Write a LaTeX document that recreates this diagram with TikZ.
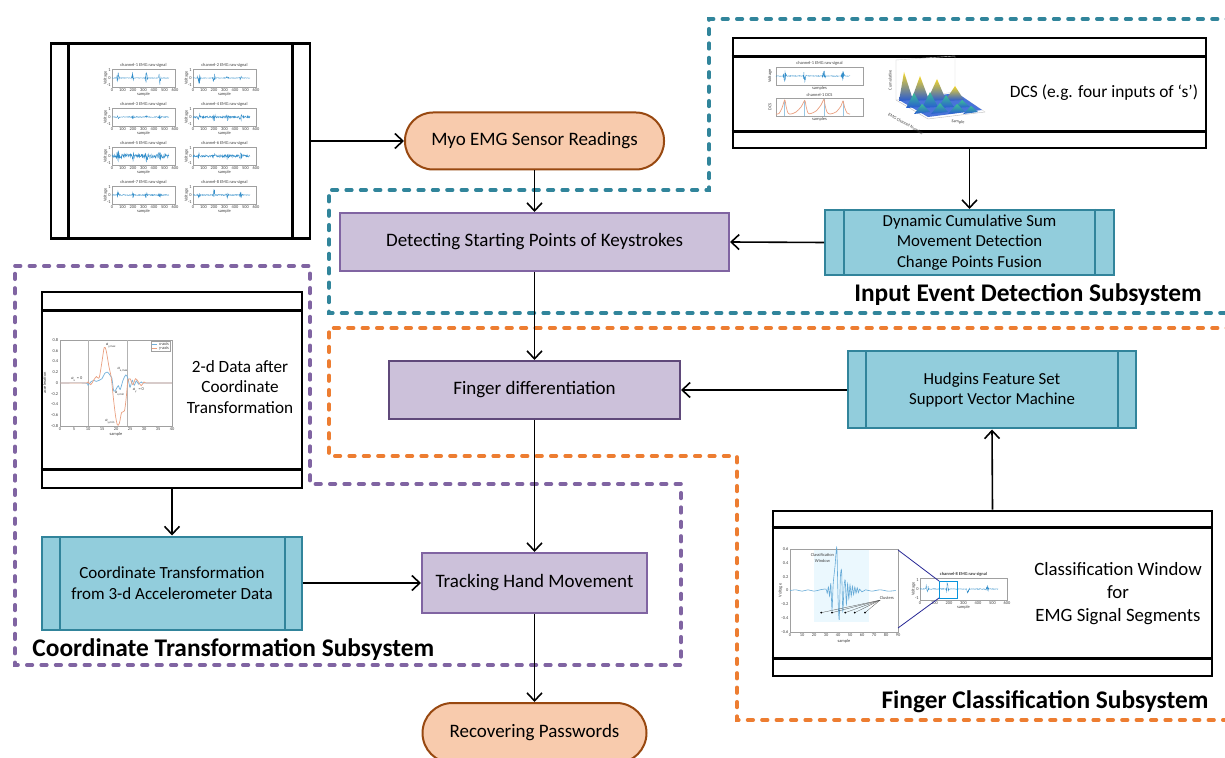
\documentclass[tikz,border=0pt]{standalone}
\usepackage{fontspec}
\setmainfont{Carlito}
\usetikzlibrary{arrows.meta}

\definecolor{peachfill}{RGB}{248,203,173}
\definecolor{peachline}{RGB}{152,72,16}
\definecolor{lilacfill}{RGB}{204,193,218}
\definecolor{lilacline}{RGB}{128,100,162}
\definecolor{plumline}{RGB}{95,73,122}
\definecolor{cyanfill}{RGB}{146,205,220}
\definecolor{cyanline}{RGB}{49,132,155}
\definecolor{tealdash}{RGB}{49,133,155}
\definecolor{orangedash}{RGB}{237,125,49}
\definecolor{purpledash}{RGB}{128,100,162}
\definecolor{matblue}{RGB}{0,114,189}
\definecolor{matorange}{RGB}{217,83,25}
\definecolor{axgray}{RGB}{160,160,160}
\definecolor{zoomnavy}{RGB}{40,40,150}
\definecolor{surfblue}{RGB}{40,90,210}
\definecolor{surfyellow}{RGB}{245,215,40}
\definecolor{surfgreen}{RGB}{60,190,150}

\tikzset{
  basetext/.style={font=\fontsize{9.5}{11.5}\selectfont, align=center, inner sep=0pt},
  terminal/.style={basetext, draw=peachline, fill=peachfill, line width=1pt,
    rounded corners=14pt, minimum width=129.5pt, minimum height=28.5pt},
  process/.style={basetext, draw=lilacline, fill=lilacfill, line width=1pt},
  subproc/.style={font=\fontsize{8.4}{10.2}\selectfont, align=center, inner sep=0pt,
    draw=cyanline, fill=cyanfill, line width=1pt},
  docbox/.style={draw=black, line width=1.3pt, fill=white},
  docline/.style={draw=black, line width=1.3pt},
  barline/.style={draw=cyanline, line width=1pt},
  flow/.style={draw=black, line width=0.8pt,
    -{Straight Barb[length=4pt,width=7.5pt,line width=0.8pt]}},
  zone/.style={line width=1.8pt, line cap=round, dash pattern=on 2.8pt off 4.4pt},
  subsys/.style={font=\fontsize{12.7}{14}\selectfont\bfseries, inner sep=0pt},
  minitext/.style={font=\fontsize{2.2}{2.6}\selectfont, inner sep=0.3pt, text=black!75},
  axisbox/.style={draw=axgray, line width=0.15pt},
  peak/.style={top color=surfyellow, bottom color=surfblue},
  lowpeak/.style={top color=surfgreen, bottom color=surfblue},
}

% one small EMG panel: #1,#2 top-left of axes, #3 title, #4-#7 burst heights, #8 noise
\newcommand\emgpanel[8]{%
\begin{scope}[shift={(#1,#2)}]
  \draw[axisbox] (0,0) rectangle (63,18);
  \draw[matblue!80, line width=0.15pt] plot[domain=0:57, samples=220, variable=\t]
    ({\t}, {9 + (#8 + #4*max(0,1-abs(\t-6)/1.6) + #5*max(0,1-abs(\t-21)/1.6)
      + #6*max(0,1-abs(\t-34.3)/1.6) + #7*max(0,1-abs(\t-47.7)/1.6))*rand});
  \node[minitext, anchor=south] at (31.5,-0.3) {#3};
  \foreach \v/\lab in {0/0,10.5/100,21/200,31.5/300,42/400,52.5/500,63/600}
    \node[minitext, anchor=north] at (\v,18.4) {\lab};
  \node[minitext, anchor=north] at (31.5,22.3) {sample};
  \node[minitext, anchor=east] at (-0.4,1.5) {1};
  \node[minitext, anchor=east] at (-0.4,9) {0};
  \node[minitext, anchor=east] at (-0.4,16.5) {-1};
  \node[minitext, rotate=90] at (-6.5,9) {Voltage};
\end{scope}}

\begin{document}
\begin{tikzpicture}[x=0.5pt,y=-0.5pt]
\pgfmathsetseed{42}
\path[fill=white, use as bounding box] (0,0) rectangle (1225,758);

% ---------- subsystem outlines ----------
\draw[zone, tealdash] (1232,19) -- (709,19) -- (709,190) -- (329,190) -- (329,313) -- (1232,313);
\draw[zone, orangedash] (1232,328) -- (329,328) -- (329,456) -- (737,456) -- (737,720) -- (1232,720);
\draw[zone, purpledash] (15,266) -- (310,266) -- (310,484) -- (681,484) -- (681,665) -- (15,665) -- cycle;

% ---------- main flow ----------
\node[terminal] (myo) at (534.5,141) {Myo EMG Sensor Readings};
\node[process, minimum width=194.5pt, minimum height=29pt] (detect) at (534.5,242)
  {Detecting Starting Points of Keystrokes};
\node[process, draw=plumline, minimum width=145.5pt, minimum height=29pt] (fingerdiff) at (534.5,390)
  {Finger differentiation};
\node[process, minimum width=112.5pt, minimum height=30pt] (tracking) at (534.5,583)
  {Tracking Hand Movement};
\node[terminal, minimum width=112pt, minimum height=30pt, rounded corners=15pt] (recover) at (534.5,733)
  {Recovering Passwords};

% ---------- predefined processes ----------
\node[subproc, minimum width=144.5pt, minimum height=32.5pt] (dcsum) at (969.5,242.5)
  {Dynamic Cumulative Sum\\Movement Detection\\Change Points Fusion};
\draw[barline] ([xshift=10pt]dcsum.north west) -- ([xshift=10pt]dcsum.south west);
\draw[barline] ([xshift=-10pt]dcsum.north east) -- ([xshift=-10pt]dcsum.south east);

\node[subproc, minimum width=144pt, minimum height=38.5pt] (hudgins) at (992,390)
  {Hudgins Feature Set\\Support Vector Machine};
\draw[barline] ([xshift=9.5pt]hudgins.north west) -- ([xshift=9.5pt]hudgins.south west);
\draw[barline] ([xshift=-9.5pt]hudgins.north east) -- ([xshift=-9.5pt]hudgins.south east);

\node[subproc, font=\fontsize{8.5}{10.5}\selectfont, minimum width=130pt, minimum height=46.5pt] (coordtr) at (172,583)
  {Coordinate Transformation\\from 3-d Accelerometer Data};
\draw[barline] ([xshift=9.5pt]coordtr.north west) -- ([xshift=9.5pt]coordtr.south west);
\draw[barline] ([xshift=-9pt]coordtr.north east) -- ([xshift=-9pt]coordtr.south east);

% ---------- document boxes ----------
\node[docbox, minimum width=129.5pt, minimum height=97.5pt] (emgdoc) at (180.5,141) {};
\draw[docline] ([xshift=9.5pt]emgdoc.north west) -- ([xshift=9.5pt]emgdoc.south west);
\draw[docline] ([xshift=-9.5pt]emgdoc.north east) -- ([xshift=-9.5pt]emgdoc.south east);

\node[docbox, minimum width=236.5pt, minimum height=55pt] (dcsdoc) at (969.5,93) {};
\draw[docline] ([yshift=-10pt]dcsdoc.north west) -- ([yshift=-10pt]dcsdoc.north east);
\draw[docline] ([yshift=9pt]dcsdoc.south west) -- ([yshift=9pt]dcsdoc.south east);
\node[basetext, font=\fontsize{8.7}{10.5}\selectfont] (dcstxt) at (1104,93) {DCS (e.g. four inputs of ‘s’)};

\node[docbox, minimum width=130pt, minimum height=98pt] (datadoc) at (172,390) {};
\draw[docline] ([yshift=-10pt]datadoc.north west) -- ([yshift=-10pt]datadoc.north east);
\draw[docline] ([yshift=10pt]datadoc.south west) -- ([yshift=10pt]datadoc.south east);
\node[basetext, font=\fontsize{8.6}{10.3}\selectfont] (datatxt) at (240,387)
  {2-d Data after\\Coordinate\\Transformation};

\node[docbox, minimum width=219.5pt, minimum height=82.5pt] (clsdoc) at (992.5,593.5) {};
\draw[docline] ([yshift=-9pt]clsdoc.north west) -- ([yshift=-9pt]clsdoc.north east);
\draw[docline] ([yshift=9.5pt]clsdoc.south west) -- ([yshift=9.5pt]clsdoc.south east);
\node[basetext, font=\fontsize{9.4}{11.5}\selectfont] (clstxt) at (1118,594)
  {Classification Window\\for\\EMG Signal Segments};

% ---------- eight raw EMG channels ----------
\emgpanel{112}{69}{channel-1 EMG raw signal}{8}{8}{8}{8}{0.3}
\emgpanel{193}{69}{channel-2 EMG raw signal}{8}{7}{2}{3}{0.3}
\emgpanel{112}{108}{channel-3 EMG raw signal}{2}{2}{1.5}{2}{0.4}
\emgpanel{193}{108}{channel-4 EMG raw signal}{3}{4}{4}{4}{1}
\emgpanel{112}{147}{channel-5 EMG raw signal}{5}{4}{4}{4}{2.2}
\emgpanel{193}{147}{channel-6 EMG raw signal}{3}{4}{3}{3}{1.3}
\emgpanel{112}{186}{channel-7 EMG raw signal}{3}{3}{3}{3}{0.5}
\emgpanel{193}{186}{channel-8 EMG raw signal}{4}{8}{4}{3}{0.5}

% ---------- DCS illustration: raw signal and cumulative sum ----------
\begin{scope}[shift={(776,67)}]
  \draw[axisbox] (0,0) rectangle (87,18);
  \draw[matblue!80, line width=0.15pt] plot[domain=0:74, samples=240, variable=\t]
    ({\t}, {9 + (0.4 + 8*max(0,1-abs(\t-8.7)/1.8) + 8*max(0,1-abs(\t-28.7)/1.8)
      + 8*max(0,1-abs(\t-47.9)/1.8) + 8*max(0,1-abs(\t-67)/1.8))*rand});
  \node[minitext, anchor=south] at (43.5,-0.3) {channel-1 EMG raw signal};
  \node[minitext, rotate=90] at (-6,9) {Voltage};
  \node[minitext, anchor=north] at (43.5,18.5) {samples};
\end{scope}
\begin{scope}[shift={(776,98)}]
  \draw[axisbox] (0,0) rectangle (87,18);
  \foreach \p/\h in {8.7/2,28.7/2.5,47.9/1.5,67/3}
    \draw[matblue!40, line width=0.3pt] (\p,18) -- (\p,\h);
  \draw[matorange!55, line width=0.35pt] plot[smooth, tension=0.5] coordinates {
    (0,16) (3,15.5) (6,10) (8.7,2) (10,8) (12,15) (15,16) (20,14) (25,9) (28.7,2.5)
    (30,8) (32,15) (35,15.5) (40,13) (45,7) (47.9,1.5) (49,7) (51,14) (54,16)
    (60,14) (65,8) (67,3) (68.5,9) (71,15) (74,16)};
  \node[minitext, anchor=south] at (43.5,-0.3) {channel-1 DCS};
  \node[minitext, rotate=90] at (-6,9) {DCS};
  \node[minitext, anchor=north] at (43.5,18.5) {samples};
\end{scope}
% 3-d surface of all channels
\draw[axgray!70, line width=0.2pt] (896,60) -- (896,100) -- (928,119) -- (985,112);
\draw[axgray!45, line width=0.2pt] (896,100) -- (955,92) -- (985,112) (955,92) -- (955,56)
  (896,60) -- (955,56);
\fill[surfblue!85] (899,100) -- (957,93) -- (982,110) -- (928,117) -- cycle;
\foreach \bx/\tx/\ty/\ex in {899/904/72/913, 911/920/76/929, 927/937/79/946, 945/955/86/964}
  \shade[peak] (\bx,101) -- (\tx,\ty) -- (\ex,100) -- cycle;
\foreach \bx/\tx/\ty/\ex in {906/914/93/922, 922/930/92/938, 938/946/95/954, 954/962/100/970}
  \shade[lowpeak] (\bx,108) -- (\tx,\ty) -- (\ex,107) -- cycle;
\foreach \bx/\tx/\ty/\ex in {914/922/104/930, 931/940/103/948, 948/957/104/965, 963/971/106/978}
  \shade[lowpeak] (\bx,114) -- (\tx,\ty) -- (\ex,112) -- cycle;
\node[minitext, rotate=90] at (890,80) {Cumulative};
\node[minitext, rotate=-30] at (906,124) {EMG Channel Number};
\node[minitext, rotate=-8] at (958,122) {Sample};

% ---------- 2-d acceleration plot ----------
\begin{scope}[shift={(60,383)}, x=1.4pt, y=26.875pt]
  \draw[axisbox] (0,-0.8) rectangle (40,0.8);
  \draw[axgray!80, line width=0.25pt] (10,-0.8) -- (10,0.8) (24,-0.8) -- (24,0.8);
  \draw[matblue!55, line width=0.35pt] plot[smooth, tension=0.5] coordinates {
    (0,0) (9,0) (10,-0.04) (11,0.02) (12,0.05) (13,0.03) (14,0.05) (15,0.08) (16,0.18)
    (17,0.2) (17.8,0.15) (18.5,0.1) (19.2,-0.15) (20,-0.12) (20.8,-0.05) (21.5,-0.12)
    (22.5,0.05) (23.5,0.15) (24.3,0.08) (25,-0.08) (25.8,0.05) (26.5,-0.04) (27.3,0.04)
    (28,-0.02) (29,0.02) (30,0) (40,0)};
  \draw[matorange!55, line width=0.35pt] plot[smooth, tension=0.5] coordinates {
    (0,0) (9,0) (10,0.02) (11,-0.03) (12,0.05) (13,0.12) (14,0.1) (15,0.4) (15.8,0.66)
    (16.5,0.6) (17.5,0.3) (18.3,0.1) (19,-0.25) (19.8,-0.6) (20.5,-0.78) (21.2,-0.75)
    (22,-0.55) (23,-0.52) (23.6,-0.3) (24.2,0.02) (25,0.08) (26,-0.03) (27,0.08) (28,0.02)
    (29,-0.05) (30,0.02) (31,0) (40,0)};
  \draw[axgray, line width=0.15pt, fill=white] (32.5,0.77) rectangle (39.5,0.6);
  \draw[matblue!55, line width=0.3pt] (33,0.72) -- (34.8,0.72);
  \draw[matorange!55, line width=0.3pt] (33,0.65) -- (34.8,0.65);
  \node[minitext, anchor=west] at (35,0.72) {x-axis};
  \node[minitext, anchor=west] at (35,0.65) {y-axis};
  \foreach \v in {0.8,0.6,0.4,0.2,0,-0.2,-0.4,-0.6,-0.8}
    \node[minitext, anchor=east] at (-0.3,\v) {\v};
  \foreach \v in {0,5,10,15,20,25,30,35,40}
    \node[minitext, anchor=north] at (\v,-0.81) {\v};
  \node[minitext, anchor=north] at (20,-0.9) {sample};
  \node[minitext, rotate=90] at (-5.5,0) {acceleration};
  \node[minitext] at (18.3,0.7) {\textit{a}\textsubscript{y,max}};
  \node[minitext] at (22.5,0.24) {\textit{a}\textsubscript{x,max}};
  \node[minitext] at (6,0.07) {\textit{a}\textsubscript{x} = 0};
  \node[minitext] at (21.5,-0.2) {\textit{a}\textsubscript{x,min}};
  \node[minitext] at (28,-0.13) {\textit{a}\textsubscript{y} = 0};
  \node[minitext] at (18,-0.72) {\textit{a}\textsubscript{y,min}};
\end{scope}

% ---------- classification window illustration ----------
\begin{scope}[shift={(790,590.5)}, x=0.6pt, y=34.6pt]
  \fill[cyan!8] (20,0.6) rectangle (66,-0.45);
  \draw[axisbox] (0,-0.6) rectangle (90,0.6);
  \draw[matblue!60, line width=0.3pt] plot[smooth, tension=0.4] coordinates {
    (0,0) (5,0.01) (10,-0.01) (15,0.01) (20,-0.01) (25,0.01) (30,0.02) (31,-0.04)
    (32,0.05) (33,-0.08) (34,0.1) (35,-0.28) (36,0.1) (37.5,0.35) (39,0.62) (40,-0.1)
    (41,-0.42) (42,0.2) (43,0.28) (44,-0.3) (45,0.05) (46,0.15) (47,-0.2) (48,0.1)
    (49,-0.12) (50,0.08) (51,-0.08) (52,0.06) (53,-0.06) (54,0.05) (55,-0.04) (56,0.04)
    (57,-0.03) (58,0.02) (60,-0.02) (63,0.01) (68,-0.01) (75,0.01) (82,-0.01) (88,0)};
  \foreach \d in {26,35,46,54,62.5} {
    \draw[black!70, line width=0.15pt] (\d,-0.32) -- (75,-0.14);
    \fill[black] (\d,-0.32) circle (0.5pt);
  }
  \node[minitext, anchor=south west] at (74,-0.15) {Clusters};
  \node[minitext, align=center] at (27,0.47) {Classification\\Window};
  \foreach \v in {0.6,0.4,0.2,0,-0.2,-0.4,-0.6}
    \node[minitext, anchor=east] at (-0.5,\v) {\v};
  \foreach \v in {0,10,20,30,40,50,60,70,80,90}
    \node[minitext, anchor=north] at (\v,-0.61) {\v};
  \node[minitext, anchor=north] at (45,-0.7) {sample};
  \node[minitext, rotate=90] at (-8,0) {Voltage};
\end{scope}
\begin{scope}[shift={(920,578)}]
  \draw[axisbox] (0,0) rectangle (87,22);
  \draw[matblue!80, line width=0.15pt] plot[domain=0:78, samples=240, variable=\t]
    ({\t}, {11 + (0.4 + 8*max(0,1-abs(\t-7)/1.7) + 8*max(0,1-abs(\t-27.5)/1.7)
      + 6*max(0,1-abs(\t-48)/1.7) + 5*max(0,1-abs(\t-67)/1.7))*rand});
  \draw[cyan!80!blue, line width=0.5pt] (19,3) rectangle (37,20);
  \node[minitext, font=\fontsize{2.2}{2.6}\selectfont\bfseries, anchor=south] at (43.5,-0.3) {channel-8 EMG raw signal};
  \foreach \v/\lab in {0/0,14.5/100,29/200,43.5/300,58/400,72.5/500,87/600}
    \node[minitext, anchor=north] at (\v,22.4) {\lab};
  \node[minitext, anchor=north] at (43.5,26.5) {sample};
  \node[minitext, anchor=east] at (-0.4,2) {1};
  \node[minitext, anchor=east] at (-0.4,11) {0};
  \node[minitext, anchor=east] at (-0.4,20) {-1};
  \node[minitext, rotate=90] at (-6.5,11) {Voltage};
\end{scope}
\draw[zoomnavy, line width=0.4pt] (898,550) -- (939,581);
\draw[zoomnavy, line width=0.4pt] (898,628) -- (939,598);

% ---------- subsystem titles ----------
\node[subsys] (lblinput) at (1028,295) {Input Event Detection Subsystem};
\node[subsys] (lblfinger) at (1045,702) {Finger Classification Subsystem};
\node[subsys, anchor=west] (lblcoord) at (32,650) {Coordinate Transformation Subsystem};

% ---------- connectors ----------
\draw[flow] (emgdoc.east) -- (myo.west);
\draw[flow] (myo.south) -- (detect.north);
\draw[flow] (dcsdoc.south) -- (dcsum.north);
\draw[flow] (dcsum.west) -- (detect.east);
\draw[flow] (detect.south) -- (fingerdiff.north);
\draw[flow] (hudgins.west) -- (fingerdiff.east);
\draw[flow] (clsdoc.north) -- (hudgins.south);
\draw[flow] (fingerdiff.south) -- (tracking.north);
\draw[flow] (datadoc.south) -- (coordtr.north);
\draw[flow] (coordtr.east) -- (tracking.west);
\draw[flow] (tracking.south) -- (recover.north);
\end{tikzpicture}
\end{document}
